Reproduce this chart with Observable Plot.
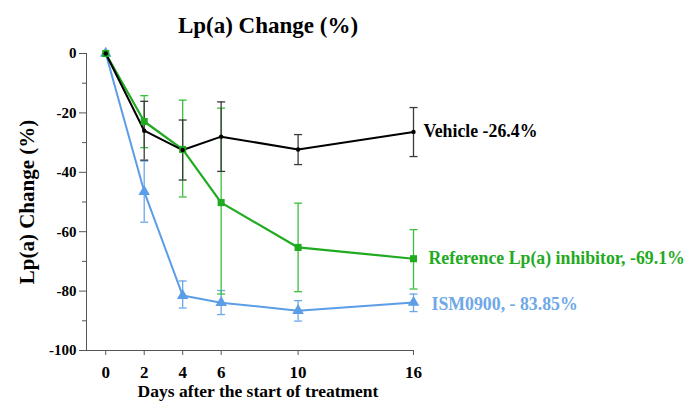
<!DOCTYPE html>
<html>
<head>
<meta charset="utf-8">
<script src="https://cdn.jsdelivr.net/npm/d3@7"></script>
<script src="https://cdn.jsdelivr.net/npm/@observablehq/plot@0.6"></script>
<style>
  body { margin: 0; background: #fff; }
  #title { width: 536px; height: 36px; padding-top: 8px; line-height: 36px; text-align: center;
           font-family: "Liberation Serif", "Times New Roman", serif; font-weight: bold; font-size: 23px; color: #000; }
</style>
</head>
<body>
<div id="title">Lp(a) Change (%)</div>
<div id="chart"></div>
<script>
const days = [0, 2, 4, 6, 10, 16];
const xTicks = [0, 2, 4, 6, 10, 16];
const yMajorTicks = [0, -20, -40, -60, -80, -100];
const yMinorTicks = [-10, -30, -50, -70, -90];

const vehicleMean = [0, -26, -32.5, -28, -32.3, -26.4];
const vehicleLow  = [0, -35.9, -42.6, -39.7, -37.4, -34.7];
const vehicleHigh = [0, -16.1, -22.4, -16.3, -27.3, -18.2];

const refMean = [0, -22.9, -32.3, -50.2, -65.3, -69.1];
const refLow  = [0, -31.7, -48.3, -81, -80.2, -79.3];
const refHigh = [0, -14.2, -15.7, -18.4, -50.4, -59.3];

const ismMean = [0, -46.5, -81.5, -83.9, -86.6, -83.85];
const ismLow  = [0, -56.8, -85.7, -87.9, -90.1, -86.9];
const ismHigh = [0, -36.2, -76.6, -79.8, -83.2, -81];

const seriesLabels = ["Vehicle -26.4%", "Reference Lp(a) inhibitor, -69.1%", "ISM0900, - 83.85%"];

const colors = {
  vehicle: { line: "#000000", err: "#3a3a3a", text: "#000000" },
  ref: { line: "#1faa1f", err: "#3cbf3c", text: "#22aa22" },
  ism: { line: "#5b9de6", err: "#6aa8ea", text: "#6ea8e6" }
};

function rows(mean, low, high) {
  return days.map((d, i) => ({ day: d, mean: mean[i], low: low[i], high: high[i] }));
}
const vehicle = rows(vehicleMean, vehicleLow, vehicleHigh);
const ref = rows(refMean, refLow, refHigh);
const ism = rows(ismMean, ismLow, ismHigh);

// horizontal cap symbol for error bars
const capSymbol = {
  draw(context, size) {
    const r = Math.sqrt(size / Math.PI);
    context.moveTo(-r, 0);
    context.lineTo(r, 0);
  }
};

function errorMarks(data, c) {
  const withErr = data.filter(d => d.low !== d.high);
  return [
    Plot.ruleX(withErr, { x: "day", y1: "low", y2: "high", stroke: c.err, strokeWidth: 1.3 }),
    Plot.dot(withErr, { x: "day", y: "low", symbol: capSymbol, r: 4, stroke: c.err, strokeWidth: 1.3, fill: "none" }),
    Plot.dot(withErr, { x: "day", y: "high", symbol: capSymbol, r: 4, stroke: c.err, strokeWidth: 1.3, fill: "none" })
  ];
}

const serif = "'Liberation Serif', 'Times New Roman', serif";

const chart = Plot.plot({
  width: 700,
  height: 369,
  marginTop: 9,
  marginBottom: 63,
  marginLeft: 86,
  marginRight: 287,
  style: { fontFamily: serif, fontWeight: "bold", fontSize: "15px", color: "#000", background: "#fff" },
  x: { domain: [-1, 16] },
  y: { domain: [-100, 0] },
  marks: [
    Plot.axisX({ ticks: xTicks, tickSize: 5, tickPadding: 10, label: null, stroke: "#555", fontSize: 17, tickFormat: d => String(d) }),
    Plot.axisY({ ticks: yMajorTicks, tickSize: 7, tickPadding: 3, label: null, stroke: "#555", fontSize: 15, tickFormat: d => String(d) }),
    Plot.axisY({ ticks: yMinorTicks, tickSize: 4, text: null, label: null, stroke: "#555" }),
    Plot.ruleY([-100], { stroke: "#555", strokeWidth: 1 }),
    Plot.ruleX([-1], { stroke: "#555", strokeWidth: 1 }),

    ...errorMarks(ism, colors.ism),
    ...errorMarks(ref, colors.ref),
    ...errorMarks(vehicle, colors.vehicle),

    Plot.line(ism, { x: "day", y: "mean", stroke: colors.ism.line, strokeWidth: 2 }),
    Plot.line(ref, { x: "day", y: "mean", stroke: colors.ref.line, strokeWidth: 2.2 }),
    Plot.line(vehicle, { x: "day", y: "mean", stroke: colors.vehicle.line, strokeWidth: 2 }),

    Plot.dot(ism, { x: "day", y: "mean", symbol: "triangle2", r: 5.5, fill: colors.ism.line }),
    Plot.dot(ref, { x: "day", y: "mean", symbol: "square2", r: 4.5, fill: colors.ref.line }),
    Plot.dot(vehicle, { x: "day", y: "mean", symbol: "circle", r: 2.2, fill: colors.vehicle.line }),

    Plot.text([vehicle[vehicle.length - 1]], { x: "day", y: "mean", text: () => seriesLabels[0], textAnchor: "start", dx: 10, dy: -1, fill: colors.vehicle.text, fontSize: 17.8, fontWeight: "bold" }),
    Plot.text([ref[ref.length - 1]], { x: "day", y: "mean", text: () => seriesLabels[1], textAnchor: "start", dx: 15, dy: 0, fill: colors.ref.text, fontSize: 17.8, fontWeight: "bold" }),
    Plot.text([ism[ism.length - 1]], { x: "day", y: "mean", text: () => seriesLabels[2], textAnchor: "start", dx: 18, dy: 2, fill: colors.ism.text, fontSize: 17.8, fontWeight: "bold" }),

    Plot.text(["Lp(a) Change (%)"], { frameAnchor: "left", textAnchor: "middle", rotate: -90, dx: -59, fontSize: 21, fontWeight: "bold", fill: "#000" }),
    Plot.text(["Days after the start of treatment"], { frameAnchor: "bottom", textAnchor: "middle", dx: 8, dy: 46, fontSize: 17.5, fontWeight: "bold", fill: "#000" })
  ]
});
document.getElementById("chart").appendChild(chart);
</script>
</body>
</html>
